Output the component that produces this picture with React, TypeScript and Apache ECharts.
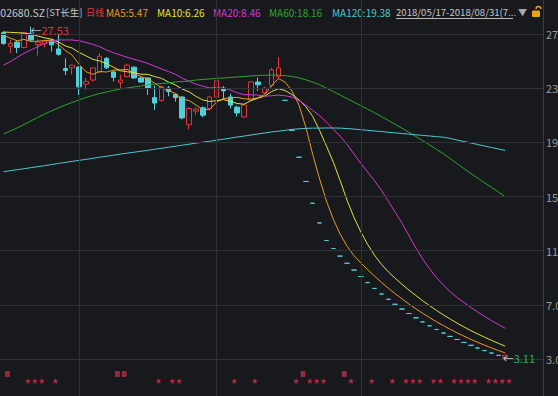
import React, { useEffect, useRef } from 'react';
import * as echarts from 'echarts';

// ---------- data ----------
const stockCode = '002680.SZ';
const stockName = '[ST长生]';
const periodName = '日线';
const maNames = ['MA5', 'MA10', 'MA20', 'MA60', 'MA120'];
const maLegendValues = ['5.47', '6.26', '8.46', '18.16', '19.38'];
const dateRange = '2018/05/17-2018/08/31(7...';

const slotCount = 79;
const categories = Array.from({ length: slotCount }, (_, i) => `d${i}`);

// [open, close, lowest, highest]
const candles = [
  [27.1, 26.3, 26.2, 27.2],
  [26.1, 26.3, 25.6, 26.6],
  [26.4, 26.0, 25.6, 26.5],
  [26.0, 27.1, 25.95, 27.15],
  [27.0, 26.56, 26.45, 27.53],
  [26.2, 26.4, 25.4, 26.6],
  [26.3, 26.5, 26.0, 26.6],
  [26.5, 26.2, 25.7, 26.6],
  [25.9, 25.5, 25.4, 27.0],
  [24.45, 24.3, 23.97, 25.2],
  [24.5, 24.7, 24.0, 24.75],
  [24.56, 23.1, 22.5, 24.6],
  [23.3, 23.5, 22.85, 23.75],
  [23.6, 24.5, 23.5, 24.55],
  [24.2, 25.35, 24.1, 25.6],
  [25.2, 24.5, 24.4, 25.3],
  [24.2, 23.8, 23.5, 24.3],
  [23.4, 23.6, 23.0, 24.0],
  [23.85, 24.7, 23.8, 24.8],
  [24.55, 23.75, 23.7, 24.6],
  [23.75, 23.45, 23.4, 23.8],
  [23.75, 23.0, 22.5, 23.8],
  [22.3, 21.9, 21.4, 23.2],
  [22.1, 23.1, 22.0, 23.2],
  [23.0, 22.75, 22.4, 23.15],
  [22.55, 22.3, 22.0, 22.6],
  [22.35, 20.8, 20.7, 22.4],
  [20.3, 21.5, 19.95, 21.6],
  [21.3, 21.45, 21.0, 21.6],
  [21.55, 21.0, 20.85, 21.65],
  [21.5, 22.35, 21.4, 22.4],
  [22.35, 23.55, 22.3, 23.7],
  [23.0, 22.8, 22.2, 23.15],
  [22.35, 21.75, 21.5, 22.6],
  [21.6, 21.17, 20.9, 21.7],
  [20.87, 21.76, 20.8, 21.85],
  [22.13, 23.47, 22.1, 23.5],
  [23.45, 23.25, 22.8, 23.8],
  [22.65, 23.0, 22.6, 23.1],
  [23.2, 24.35, 23.1, 24.5],
  [23.85, 24.5, 23.7, 25.3],
  [22.10, 22.10, 22.10, 22.10],
  [19.89, 19.89, 19.89, 19.89],
  [17.90, 17.90, 17.90, 17.90],
  [16.11, 16.11, 16.11, 16.11],
  [14.50, 14.50, 14.50, 14.50],
  [13.05, 13.05, 13.05, 13.05],
  [11.75, 11.75, 11.75, 11.75],
  [11.16, 11.16, 11.16, 11.16],
  [10.60, 10.60, 10.60, 10.60],
  [10.07, 10.07, 10.07, 10.07],
  [9.57, 9.57, 9.57, 9.57],
  [9.09, 9.09, 9.09, 9.09],
  [8.64, 8.64, 8.64, 8.64],
  [8.21, 8.21, 8.21, 8.21],
  [7.80, 7.80, 7.80, 7.80],
  [7.41, 7.41, 7.41, 7.41],
  [7.04, 7.04, 7.04, 7.04],
  [6.69, 6.69, 6.69, 6.69],
  [6.36, 6.36, 6.36, 6.36],
  [6.04, 6.04, 6.04, 6.04],
  [5.74, 5.74, 5.74, 5.74],
  [5.45, 5.45, 5.45, 5.45],
  [5.18, 5.18, 5.18, 5.18],
  [4.92, 4.92, 4.92, 4.92],
  [4.67, 4.67, 4.67, 4.67],
  [4.44, 4.44, 4.44, 4.44],
  [4.22, 4.22, 4.22, 4.22],
  [4.01, 4.01, 4.01, 4.01],
  [3.81, 3.81, 3.81, 3.81],
  [3.62, 3.62, 3.62, 3.62],
  [3.44, 3.44, 3.44, 3.44],
  [3.27, 3.27, 3.27, 3.27],
  [3.11, 3.28, 3.11, 3.28],
];

const ma5 = [
  26.9, 26.7, 26.5, 26.6, 26.45, 26.47, 26.51, 26.55, 26.23, 25.78,
  25.44, 24.76, 24.22, 24.02, 24.23, 24.19, 24.33, 24.35, 24.39, 24.07,
  23.86, 23.70, 23.36, 23.04, 22.84, 22.61, 22.17, 22.09, 21.76, 21.41,
  21.42, 21.97, 22.23, 22.29, 22.32, 22.21, 22.19, 22.28, 22.53, 23.17,
  23.71, 23.44, 22.77, 21.75, 20.10, 18.10, 16.29, 14.66, 13.31, 12.21,
  11.33, 10.63, 10.10, 9.59, 9.12, 8.66, 8.23, 7.82, 7.43, 7.06,
  6.71, 6.37, 6.06, 5.75, 5.47, 5.19, 4.93, 4.69, 4.45, 4.23,
  4.02, 3.82, 3.63, 3.45,
];
const ma10 = [
  27.15, 27.12, 27.1, 27.06, 27.0, 26.85, 26.72, 26.62, 26.42, 26.12,
  25.96, 25.64, 25.39, 25.13, 25.01, 24.82, 24.55, 24.29, 24.21, 24.15,
  24.03, 24.02, 23.86, 23.72, 23.46, 23.24, 22.94, 22.73, 22.40, 22.13,
  22.02, 22.07, 22.16, 22.03, 21.87, 21.81, 22.08, 22.26, 22.41, 22.75,
  22.96, 22.82, 22.52, 22.14, 21.63, 20.91, 19.87, 18.72, 17.53, 16.16,
  14.71, 13.46, 12.38, 11.45, 10.66, 9.99, 9.43, 8.96, 8.51, 8.09,
  7.69, 7.30, 6.94, 6.59, 6.26, 5.95, 5.65, 5.37, 5.10, 4.85,
  4.61, 4.38, 4.16, 3.95,
];
const ma20 = [
  24.71, 24.95, 25.28, 25.57, 25.82, 26.06, 26.31, 26.48, 26.56, 26.56,
  26.56, 26.5, 26.38, 26.23, 26.06, 25.82, 25.62, 25.45, 25.28, 25.13,
  24.99, 24.83, 24.62, 24.42, 24.23, 24.03, 23.74, 23.51, 23.30, 23.14,
  23.02, 23.04, 23.01, 22.87, 22.66, 22.52, 22.51, 22.49, 22.41, 22.44,
  22.49, 22.44, 22.34, 22.08, 21.75, 21.36, 20.97, 20.49, 19.97, 19.45,
  18.84, 18.14, 17.45, 16.80, 16.15, 15.45, 14.65, 13.84, 13.02, 12.12,
  11.20, 10.38, 9.66, 9.02, 8.46, 7.97, 7.54, 7.17, 6.81, 6.47,
  6.15, 5.84, 5.55, 5.27,
];
const ma60 = [
  19.62, 19.84, 20.06, 20.32, 20.58, 20.84, 21.09, 21.32, 21.54, 21.76,
  21.94, 22.13, 22.31, 22.46, 22.61, 22.72, 22.83, 22.94, 23.01, 23.09,
  23.16, 23.24, 23.31, 23.35, 23.38, 23.46, 23.49, 23.53, 23.60, 23.64,
  23.68, 23.72, 23.75, 23.79, 23.83, 23.86, 23.90, 23.94, 23.95, 23.97,
  23.96, 23.92, 23.86, 23.76, 23.62, 23.45, 23.25, 23.0, 22.75, 22.49,
  22.23, 21.97, 21.71, 21.45, 21.18, 20.90, 20.62, 20.33, 20.04, 19.74,
  19.43, 19.12, 18.81, 18.48, 18.16, 17.80, 17.43, 17.06, 16.70, 16.36,
  16.01, 15.68, 15.34, 14.98,
];
const ma120 = [
  16.83, 16.91, 16.98, 17.05, 17.13, 17.21, 17.28, 17.36, 17.44, 17.52,
  17.59, 17.67, 17.74, 17.82, 17.90, 17.97, 18.05, 18.13, 18.20, 18.27,
  18.34, 18.41, 18.49, 18.56, 18.64, 18.71, 18.79, 18.86, 18.94, 19.01,
  19.08, 19.16, 19.23, 19.31, 19.39, 19.46, 19.54, 19.62, 19.69, 19.77,
  19.82, 19.89, 19.96, 20.00, 20.03, 20.05, 20.05, 20.06, 20.06, 20.05,
  20.02, 19.98, 19.93, 19.89, 19.84, 19.80, 19.74, 19.70, 19.65, 19.61,
  19.56, 19.51, 19.47, 19.42, 19.38, 19.29, 19.17, 19.06, 18.95, 18.84,
  18.73, 18.62, 18.51, 18.40,
];

const yTicks = [3, 7, 11, 15, 19, 23, 27];
const monthLineIdx = [11, 31, 52];
const starIdx = [3, 4, 5, 7, 22, 24, 25, 33, 36, 42, 44, 45, 46, 50, 53, 56, 58, 59, 60, 62, 63, 65, 66, 67, 68, 70, 71, 72, 73];
const squareIdx = [0, 16, 17, 43, 49];

// ---------- styles ----------
const BG = '#17191d';
const GRID = '#2f3238';
const FONT = '"Noto Sans CJK SC", "Noto Sans", sans-serif';
const UP = '#e0363c';
const DOWN = '#52d0da';
const maColors = ['#e89a2a', '#e2e23a', '#d23ad2', '#2ea52e', '#4ec8d2'];
const legendX = [106, 157, 213, 269, 332];
// pixel calibration of the value axis: 27 -> y 34, 3 -> y 359 in a 396px-high grid
const PX_PER_UNIT = 325 / 24;
const Y_MAX = 27 + 34 / PX_PER_UNIT;
const Y_MIN = 3 - 37 / PX_PER_UNIT;
const STAR = 'path://M5,0 L6.2,3.6 L10,3.6 L6.9,5.9 L8.1,9.5 L5,7.3 L1.9,9.5 L3.1,5.9 L0,3.6 L3.8,3.6 Z';

export default function App() {
  const ref = useRef<HTMLDivElement>(null);
  useEffect(() => {
    if (!ref.current) return;
    const chart = echarts.init(ref.current, null, { renderer: 'svg' });
    const hiddenX = {
      type: 'category', data: categories, boundaryGap: true,
      axisLine: { show: false }, axisTick: { show: false }, axisLabel: { show: false }, splitLine: { show: false },
    };
    const headerText = (x: number, text: string, fill: string, size = 10) => ({
      type: 'text', x, y: 12, silent: true,
      style: { text, fill, font: `${size}px ${FONT}`, verticalAlign: 'middle', align: 'left' },
    });
    const option: any = {
      animation: false,
      backgroundColor: BG,
      grid: [
        { left: -2, right: 15, top: 0, bottom: 0 },
        { left: -2, right: 15, top: 374, height: 7 },
      ],
      xAxis: [{ ...hiddenX, gridIndex: 0 }, { ...hiddenX, gridIndex: 1 }],
      yAxis: [
        {
          type: 'value', gridIndex: 0, position: 'right', min: Y_MIN, max: Y_MAX,
          axisLine: { show: true, lineStyle: { color: '#3a3d44' } },
          axisTick: { show: false }, axisLabel: { show: false }, splitLine: { show: false },
        },
        { type: 'value', gridIndex: 1, min: 0, max: 1, show: false },
      ],
      series: [
        {
          type: 'line', data: [], z: 1, silent: true,
          markLine: {
            silent: true, symbol: ['none', 'none'], animation: false,
            lineStyle: { color: GRID, width: 1, type: 'solid' },
            label: {
              show: true, position: 'end', distance: 3, color: '#9b9b9b', fontSize: 11, fontFamily: FONT,
              formatter: (p: any) => Number(p.value).toFixed(2),
            },
            emphasis: { disabled: true },
            data: [
              ...yTicks.map((v) => ({ yAxis: v })),
              ...monthLineIdx.map((i) => ({ xAxis: categories[i], label: { show: false } })),
            ],
          },
        },
        {
          type: 'candlestick', data: candles, barWidth: 5, z: 3, silent: true,
          itemStyle: {
            color: BG, color0: DOWN, borderColor: UP, borderColor0: DOWN, borderColorDoji: DOWN, borderWidth: 1,
          },
          markPoint: {
            symbol: 'circle', symbolSize: 1, silent: true,
            itemStyle: { color: 'rgba(0,0,0,0)' },
            data: [
              {
                type: 'max', valueDim: 'highest',
                label: {
                  show: true, position: 'right', distance: 0, offset: [-1, 3],
                  formatter: (p: any) => `{a|←}{r|${Number(p.value).toFixed(2)}}`,
                  rich: {
                    a: { color: '#b8b8b8', fontSize: 11, fontFamily: FONT },
                    r: { color: '#d8393c', fontSize: 11, fontFamily: FONT },
                  },
                },
              },
              {
                type: 'min', valueDim: 'lowest',
                label: {
                  show: true, position: 'right', distance: 0, offset: [-3, 0],
                  formatter: (p: any) => `{a|←}{g|${Number(p.value).toFixed(2)}}`,
                  rich: {
                    a: { color: '#c8c8c8', fontSize: 11, fontFamily: FONT },
                    g: { color: '#2fae52', fontSize: 11, fontFamily: FONT },
                  },
                },
              },
            ],
          },
        },
        ...[ma5, ma10, ma20, ma60, ma120].map((d, k) => ({
          type: 'line', name: maNames[k], data: d, z: 4, silent: true,
          symbol: 'none', showSymbol: false,
          lineStyle: { color: maColors[k], width: 1 }, itemStyle: { color: maColors[k] },
        })),
        {
          type: 'scatter', xAxisIndex: 1, yAxisIndex: 1, silent: true, z: 5,
          data: starIdx.map((i) => [categories[i], 0]),
          symbol: STAR, symbolSize: 6, symbolOffset: [4, 0], itemStyle: { color: '#e2304e' },
        },
        {
          type: 'scatter', xAxisIndex: 1, yAxisIndex: 1, silent: true, z: 5,
          data: squareIdx.map((i) => [categories[i], 1]),
          symbol: 'rect', symbolSize: [4, 5], symbolOffset: [4, 0],
          itemStyle: { color: '#b82d44', borderColor: '#d8465c', borderWidth: 0.5 },
        },
      ],
      graphic: [
        headerText(-5.5, stockCode, '#c8c8c8', 10.5),
        headerText(46, stockName, '#c8c8c8', 9.5),
        headerText(86, periodName, '#e03434', 9),
        ...maNames.map((n, k) => headerText(legendX[k], `${n}:${maLegendValues[k]}`, maColors[k])),
        headerText(396, dateRange, '#c8c8c8', 9.6),
        { type: 'line', silent: true, shape: { x1: 396, y1: 18.5, x2: 513, y2: 18.5 }, style: { stroke: '#b8b8b8', lineWidth: 1 } },
        headerText(518, '▼', '#a8a8a8', 9),
        { type: 'rect', silent: true, shape: { x: 532, y: 10.5, width: 8, height: 6.5, r: 1 }, style: { fill: '#e8a317' } },
        { type: 'arc', silent: true, shape: { cx: 538.5, cy: 9, r: 2.5, startAngle: Math.PI, endAngle: Math.PI * 2 }, style: { stroke: '#e8a317', lineWidth: 1.4, fill: 'none' } },
      ],
    };
    chart.setOption(option);
    return () => chart.dispose();
  }, []);
  return (
    <div
      ref={ref}
      style={{ position: 'fixed', left: 0, top: 0, width: 558, height: 396, background: BG }}
    />
  );
}
